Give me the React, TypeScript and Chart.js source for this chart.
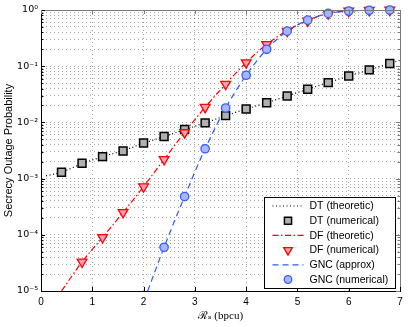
import { useEffect, useRef } from 'react';
import { Chart, registerables } from 'chart.js';

Chart.register(...registerables);

// ---- data ----
const xTicks = [0, 1, 2, 3, 4, 5, 6, 7];
const yDecades = [1e-5, 1e-4, 1e-3, 1e-2, 1e-1, 1];
const yDecadeLabels = ['10⁻⁵', '10⁻⁴', '10⁻³', '10⁻²', '10⁻¹', '10⁰'];
const yMinorMultipliers = [2, 3, 4, 5, 6, 7, 8, 9];

// DT
const dtTheoX = [0.1, 0.4, 0.8, 1.2, 1.6, 2.0, 2.4, 2.8, 3.2, 3.6, 4.0, 4.4, 4.8, 5.2, 5.6, 6.0, 6.4, 6.8, 7.0];
const dtTheoY = [1.12e-3, 1.3e-3, 1.85e-3, 2.45e-3, 3.15e-3, 4.25e-3, 5.6e-3, 7.4e-3, 9.8e-3, 1.32e-2, 1.73e-2, 2.24e-2, 2.95e-2, 3.9e-2, 5.1e-2, 6.7e-2, 8.6e-2, 0.112, 0.127];
const dtNumX = [0.4, 0.8, 1.2, 1.6, 2.0, 2.4, 2.8, 3.2, 3.6, 4.0, 4.4, 4.8, 5.2, 5.6, 6.0, 6.4, 6.8];
const dtNumY = [1.3e-3, 1.87e-3, 2.46e-3, 3.1e-3, 4.3e-3, 5.6e-3, 7.5e-3, 9.8e-3, 1.32e-2, 1.73e-2, 2.24e-2, 2.95e-2, 3.9e-2, 5.1e-2, 6.7e-2, 8.6e-2, 0.112];

// DF
const dfTheoX = [0.4, 0.8, 1.2, 1.6, 2.0, 2.4, 2.8, 3.2, 3.6, 4.0, 4.4, 4.8, 5.2, 5.6, 6.0, 6.4, 6.8, 7.0];
const dfTheoY = [1e-5, 3.3e-5, 9e-5, 2.5e-4, 7.2e-4, 2.2e-3, 6.6e-3, 1.86e-2, 4.8e-2, 0.116, 0.245, 0.43, 0.65, 0.87, 0.96, 0.99, 1.0, 1.0];
const dfNumX = [0.8, 1.2, 1.6, 2.0, 2.4, 2.8, 3.2, 3.6, 4.0, 4.4, 4.8, 5.2, 5.6, 6.0, 6.4, 6.8];
const dfNumY = [3.3e-5, 9e-5, 2.5e-4, 7.2e-4, 2.2e-3, 6.6e-3, 1.86e-2, 4.8e-2, 0.116, 0.245, 0.42, 0.64, 0.86, 0.96, 0.99, 1.0];

// GNC
const gncTheoX = [2.08, 2.4, 2.8, 3.2, 3.6, 4.0, 4.4, 4.8, 5.2, 5.6, 6.0, 6.4, 6.8, 7.0];
const gncTheoY = [1e-5, 6e-5, 4.8e-4, 3.4e-3, 1.8e-2, 6.9e-2, 0.2, 0.42, 0.66, 0.87, 0.96, 0.99, 1.0, 1.0];
const gncNumX = [2.4, 2.8, 3.2, 3.6, 4.0, 4.4, 4.8, 5.2, 5.6, 6.0, 6.4, 6.8];
const gncNumY = [6e-5, 4.8e-4, 3.4e-3, 1.8e-2, 6.9e-2, 0.2, 0.42, 0.66, 0.87, 0.96, 0.99, 1.0];

const xTitle = 'ℛₛ (bpcu)';
const yTitle = 'Secrecy Outage Probability';

const pts = (xs: number[], ys: number[]) => xs.map((x, i) => ({ x, y: ys[i] }));

const yGridValues: number[] = [];
yDecades.forEach((d, i) => {
  yGridValues.push(d);
  if (i < yDecades.length - 1) yMinorMultipliers.forEach((m) => yGridValues.push(d * m));
});

const SANS = '"Liberation Sans", Arial, Helvetica, sans-serif';

const framePlugin = {
  id: 'frameAndLegend',
  afterDraw(chart: any) {
    const ctx: CanvasRenderingContext2D = chart.ctx;
    const { left, right, top, bottom } = chart.chartArea;
    const xs = chart.scales.x;
    const ys = chart.scales.y;
    ctx.save();
    // top and right frame lines
    ctx.strokeStyle = '#7a7a7a';
    ctx.lineWidth = 1;
    ctx.setLineDash([]);
    ctx.beginPath();
    ctx.moveTo(left, top + 0.5);
    ctx.lineTo(right + 0.5, top + 0.5);
    ctx.lineTo(right + 0.5, bottom);
    ctx.stroke();
    // inward tick marks
    yGridValues.forEach((v) => {
      const p = Math.round(ys.getPixelForValue(v)) + 0.5;
      const major = yDecades.some((d) => Math.abs(v / d - 1) < 1e-6);
      const len = major ? 4 : 2.5;
      ctx.strokeStyle = '#000';
      ctx.beginPath();
      ctx.moveTo(left, p);
      ctx.lineTo(left + len, p);
      ctx.stroke();
      ctx.strokeStyle = '#7a7a7a';
      ctx.beginPath();
      ctx.moveTo(right, p);
      ctx.lineTo(right - len, p);
      ctx.stroke();
    });
    xTicks.forEach((v) => {
      const p = Math.round(xs.getPixelForValue(v)) + 0.5;
      ctx.strokeStyle = '#000';
      ctx.beginPath();
      ctx.moveTo(p, bottom);
      ctx.lineTo(p, bottom - 4);
      ctx.stroke();
      ctx.strokeStyle = '#7a7a7a';
      ctx.beginPath();
      ctx.moveTo(p, top);
      ctx.lineTo(p, top + 4);
      ctx.stroke();
    });

    // legend
    const w = 131;
    const h = 91;
    const x0 = Math.round(right - 136) + 0.5;
    const y0 = Math.round(bottom - 94) + 0.5;
    ctx.fillStyle = '#fff';
    ctx.fillRect(x0, y0, w, h);
    ctx.strokeStyle = '#000';
    ctx.lineWidth = 1;
    ctx.strokeRect(x0, y0, w, h);
    const ds = chart.data.datasets;
    const order = [0, 1, 2, 3, 4, 5];
    order.forEach((di, row) => {
      const d = ds[di];
      const cy = y0 + 8.5 + row * 14.7;
      const sx0 = x0 + 8;
      const sx1 = x0 + 39;
      const mx = (sx0 + sx1) / 2;
      if (d.showLine !== false) {
        ctx.save();
        ctx.strokeStyle = d.borderColor;
        ctx.lineWidth = d.borderWidth;
        ctx.setLineDash(d.borderDash || []);
        ctx.beginPath();
        ctx.moveTo(sx0, cy);
        ctx.lineTo(sx1, cy);
        ctx.stroke();
        ctx.restore();
      } else {
        ctx.save();
        ctx.fillStyle = d.backgroundColor;
        ctx.strokeStyle = d.borderColor;
        ctx.lineWidth = d.borderWidth;
        ctx.setLineDash([]);
        ctx.beginPath();
        const r = d.pointRadius * 0.9;
        if (d.pointStyle === 'rect') {
          const s = r * Math.SQRT1_2;
          ctx.rect(mx - s, cy - s, 2 * s, 2 * s);
        } else if (d.pointStyle === 'triangle') {
          ctx.moveTo(mx - r * 0.866, cy - r * 0.5);
          ctx.lineTo(mx + r * 0.866, cy - r * 0.5);
          ctx.lineTo(mx, cy + r);
          ctx.closePath();
        } else {
          ctx.arc(mx, cy, r, 0, Math.PI * 2);
        }
        ctx.fill();
        ctx.stroke();
        ctx.restore();
      }
      ctx.fillStyle = '#000';
      ctx.font = `10.5px ${SANS}`;
      ctx.textAlign = 'left';
      ctx.textBaseline = 'middle';
      ctx.fillText(d.label, x0 + 45, cy + 0.5);
    });
    ctx.restore();
  },
};

export default function App() {
  const ref = useRef<HTMLCanvasElement | null>(null);

  useEffect(() => {
    if (!ref.current) return;
    const chart = new Chart(ref.current, {
      type: 'line',
      data: {
        datasets: [
          {
            label: 'DT (theoretic)',
            data: pts(dtTheoX, dtTheoY),
            borderColor: '#000000',
            borderWidth: 1.2,
            borderDash: [1, 2.5],
            pointRadius: 0,
            fill: false,
            cubicInterpolationMode: 'monotone',
            order: 6,
          },
          {
            label: 'DT (numerical)',
            data: pts(dtNumX, dtNumY),
            showLine: false,
            pointStyle: 'rect',
            pointRadius: 5.6,
            backgroundColor: '#b0b0b0',
            borderColor: '#000000',
            borderWidth: 1.5,
            clip: false,
            order: 3,
          },
          {
            label: 'DF (theoretic)',
            data: pts(dfTheoX, dfTheoY),
            borderColor: '#ff0000',
            borderWidth: 1.2,
            borderDash: [6, 2.5, 1.5, 2.5],
            pointRadius: 0,
            fill: false,
            cubicInterpolationMode: 'monotone',
            order: 5,
          },
          {
            label: 'DF (numerical)',
            data: pts(dfNumX, dfNumY),
            showLine: false,
            pointStyle: 'triangle',
            rotation: 180,
            pointRadius: 5.6,
            backgroundColor: '#ff9fb0',
            borderColor: '#ff0000',
            borderWidth: 1.3,
            clip: false,
            order: 2,
          },
          {
            label: 'GNC (approx)',
            data: pts(gncTheoX, gncTheoY),
            borderColor: '#2a5cff',
            borderWidth: 1.2,
            borderDash: [6, 4],
            pointRadius: 0,
            fill: false,
            cubicInterpolationMode: 'monotone',
            order: 4,
          },
          {
            label: 'GNC (numerical)',
            data: pts(gncNumX, gncNumY),
            showLine: false,
            pointStyle: 'circle',
            pointRadius: 4.2,
            backgroundColor: '#a9b6ff',
            borderColor: '#3a5cff',
            borderWidth: 1.3,
            clip: false,
            order: 1,
          },
        ] as any,
      },
      options: {
        animation: false,
        responsive: false,
        devicePixelRatio: 1,
        layout: { padding: { top: 10, right: 15, left: 0, bottom: 0 } },
        plugins: { legend: { display: false }, tooltip: { enabled: false } },
        scales: {
          x: {
            type: 'linear',
            min: 0,
            max: 7,
            afterBuildTicks: (scale: any) => {
              scale.ticks = xTicks.map((v) => ({ value: v }));
            },
            afterFit: (scale: any) => {
              scale.height = 36;
              scale.paddingLeft = 0;
              scale.paddingRight = 0;
            },
            ticks: {
              autoSkip: false,
              maxRotation: 0,
              padding: 5,
              color: '#000',
              font: { family: SANS, size: 10 },
              callback: (v: any) => String(v),
            },
            grid: {
              color: 'rgba(0,0,0,0.35)',
              lineWidth: 1,
              drawTicks: false,
            },
            border: { display: true, color: '#000', width: 1, dash: [1, 3] },
            title: {
              display: true,
              text: xTitle,
              color: '#000',
              font: { family: '"Liberation Serif", "DejaVu Serif", serif', size: 11 },
              padding: { top: 0, bottom: 4 },
            },
          },
          y: {
            type: 'logarithmic',
            min: 1e-5,
            max: 1,
            afterBuildTicks: (scale: any) => {
              scale.ticks = yGridValues.map((v) => ({ value: v }));
            },
            afterFit: (scale: any) => {
              scale.width = 41;
              scale.paddingTop = 0;
              scale.paddingBottom = 0;
            },
            ticks: {
              autoSkip: false,
              padding: 3,
              color: '#000',
              font: { family: '"DejaVu Sans", sans-serif', size: 9.5 },
              callback: (v: any) => {
                const i = yDecades.findIndex((d) => Math.abs(Number(v) / d - 1) < 1e-6);
                return i >= 0 ? yDecadeLabels[i] : '';
              },
            },
            grid: {
              color: 'rgba(0,0,0,0.35)',
              lineWidth: 1,
              drawTicks: false,
            },
            border: { display: true, color: '#000', width: 1, dash: [1, 3] },
            title: {
              display: true,
              text: yTitle,
              color: '#000',
              font: { family: SANS, size: 11 },
              padding: { top: 2, bottom: 0 },
            },
          },
        },
      } as any,
      plugins: [framePlugin],
    });
    return () => chart.destroy();
  }, []);

  return (
    <div style={{ position: 'fixed', left: 0, top: 0, width: 415, height: 327, background: '#fff' }}>
      <canvas ref={ref} width={415} height={327} style={{ display: 'block', width: 415, height: 327 }} />
    </div>
  );
}
